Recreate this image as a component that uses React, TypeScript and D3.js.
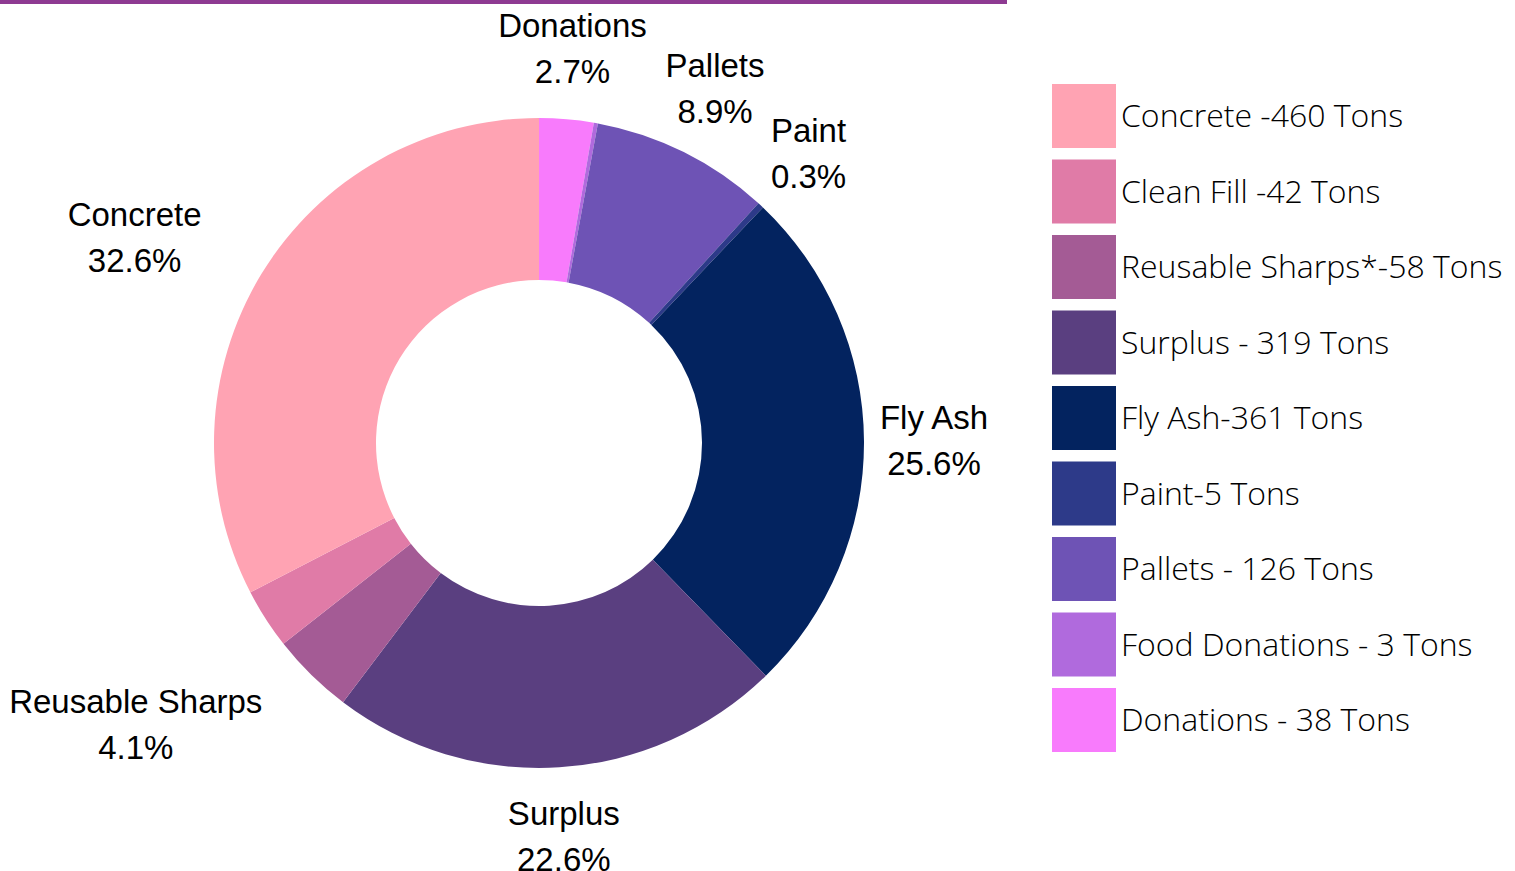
import React, { useEffect, useRef } from 'react';
import * as d3 from 'd3';

// legend order
const categories = ['Concrete', 'Clean Fill', 'Reusable Sharps', 'Surplus', 'Fly Ash', 'Paint', 'Pallets', 'Food Donations', 'Donations'];
const shares = [32.6, 3.0, 4.1, 22.6, 25.6, 0.3, 8.9, 0.2, 2.7];
const legendLabels = [
  'Concrete -460 Tons',
  'Clean Fill -42 Tons',
  'Reusable Sharps*-58 Tons',
  'Surplus - 319 Tons',
  'Fly Ash-361 Tons',
  'Paint-5 Tons',
  'Pallets - 126 Tons',
  'Food Donations - 3 Tons',
  'Donations - 38 Tons',
];
const showLabel = [true, false, true, true, true, true, true, false, true];
const colors = ['#FFA3B3', '#E07BA7', '#A45B95', '#5A3F80', '#03235F', '#2D3A89', '#6E53B5', '#B06ADD', '#F87BFC'];

const App = () => {
  const svgRef = useRef<SVGSVGElement>(null);

  useEffect(() => {
    const svg = d3.select(svgRef.current);
    svg.selectAll('*').remove();

    const cx = 539;
    const cy = 443;
    const outer = 325;
    const inner = 163;

    svg.append('rect').attr('x', 0).attr('y', 0).attr('width', 1007).attr('height', 4).attr('fill', '#8E3A92');

    const idx = d3.range(categories.length).reverse();
    const pie = d3.pie<number>().sort(null).value((i) => shares[i]);
    const arcs = pie(idx);
    const arc = d3.arc<d3.PieArcDatum<number>>().innerRadius(inner).outerRadius(outer);
    const labelArc = d3.arc<d3.PieArcDatum<number>>().innerRadius(395).outerRadius(395);

    const g = svg.append('g').attr('transform', `translate(${cx},${cy})`);
    g.selectAll('path')
      .data(arcs)
      .join('path')
      .attr('d', arc)
      .attr('fill', (d) => colors[d.data]);

    // labels: left-side blocks end at the anchor, others centred on it
    arcs.filter((d) => showLabel[d.data]).forEach((d) => {
      const i = d.data;
      const [lx, ly] = labelArc.centroid(d);
      const mid = (d.startAngle + d.endAngle) / 2;
      const t = g.append('text')
        .attr('font-family', 'Liberation Sans, Arial, sans-serif')
        .attr('font-size', 33)
        .attr('fill', '#000')
        .attr('text-anchor', 'middle');
      t.append('tspan').attr('x', 0).attr('y', -12).text(categories[i]);
      t.append('tspan').attr('x', 0).attr('y', 34).text(`${shares[i].toFixed(1)}%`);
      const w = (t.node() as SVGTextElement).getBBox().width;
      const x = Math.sin(mid) < 0 ? lx - w / 2 : lx;
      t.attr('transform', `translate(${x},${ly})`);
    });

    const legend = svg.append('g');
    const y = d3.scaleLinear().domain([0, 1]).range([84, 159.5]);
    categories.forEach((c, i) => {
      legend.append('rect')
        .attr('x', 1052).attr('y', y(i))
        .attr('width', 64).attr('height', 64)
        .attr('fill', colors[i]);
      legend.append('text')
        .attr('x', 1121).attr('y', y(i) + 43)
        .attr('font-family', 'Open Sans, sans-serif')
        .attr('font-weight', 300)
        .attr('font-size', 32)
        .attr('fill', '#000')
        .text(legendLabels[i]);
    });
  }, []);

  return (
    <svg ref={svgRef} width={1515} height={871} style={{ position: 'absolute', left: 0, top: 0, background: '#fff' }}></svg>
  );
};

export default App;
